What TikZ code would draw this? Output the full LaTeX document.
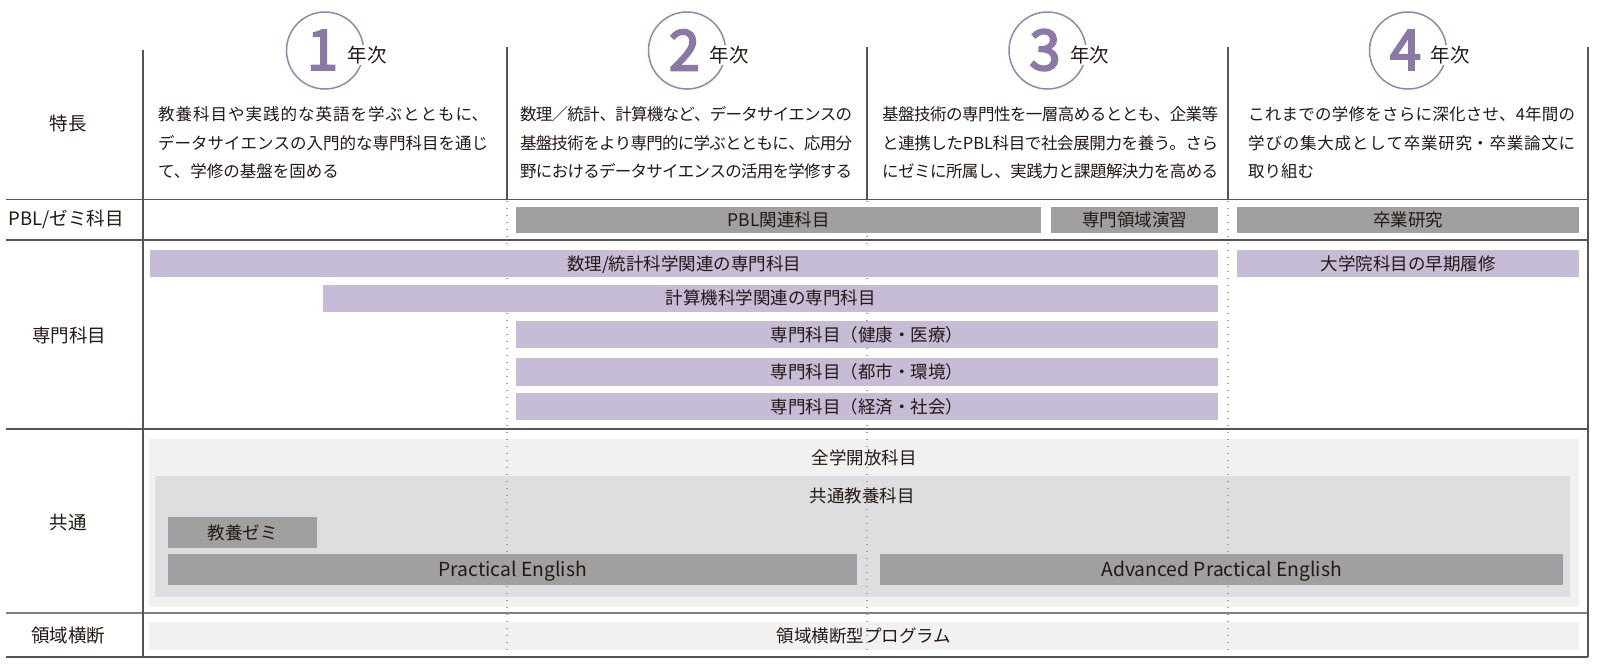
\documentclass[tikz,border=0pt]{standalone}
\usepackage{fontspec}
\setmainfont{Noto Sans CJK JP}
\newfontfamily\digitfont{Noto Sans CJK JP}[FakeBold=3.5]
\XeTeXlinebreaklocale "ja"
\XeTeXlinebreakskip=0pt plus 4pt minus 2.5pt
\definecolor{lineclr}{HTML}{595454}
\definecolor{dotclr}{HTML}{A0A0A0}
\definecolor{purplebar}{HTML}{C7BCD5}
\definecolor{graybar}{HTML}{A0A0A0}
\definecolor{bgout}{HTML}{F2F1F2}
\definecolor{bgin}{HTML}{DEDEE0}
\definecolor{circclr}{HTML}{9683B3}
\definecolor{digitclr}{HTML}{8B78A8}
\definecolor{textclr}{HTML}{231815}
\begin{document}
\begin{tikzpicture}[x=1pt,y=-1pt,
  every node/.style={text=textclr},
  barbase/.style={rectangle, inner sep=0, anchor=north west, font=\fontsize{17.5}{20}\selectfont, text height=15.4pt, text depth=2.1pt},
  gbar/.style={barbase, fill=graybar},
  pbar/.style={barbase, fill=purplebar},
  latinbar/.style={gbar, font=\fontsize{19.3}{22}\selectfont},
  bgbox/.style={rectangle, inner sep=0, anchor=north west},
  lab/.style={font=\fontsize{18.5}{20}\selectfont, inner sep=0},
  feat/.style={anchor=north west, inner sep=0, align=justify, font=\fontsize{16.5}{28.5}\selectfont},
  yearcirc/.style={circle, draw=circclr, line width=1.5pt, minimum size=77pt, inner sep=0},
  digit/.style={text=digitclr, font=\digitfont\fontsize{56}{60}\selectfont, inner sep=0},
  nenji/.style={fill=white, inner sep=1pt, font=\fontsize{19.5}{22}\selectfont},
  hline/.style={draw=lineclr, line width=1.2pt},
  dotline/.style={draw=dotclr, line width=1.4pt, dash pattern=on 1.4pt off 5.6pt}
]
\useasboundingbox (0,0) rectangle (1600,665);

% ---- common row backgrounds and bars
\node[bgbox, fill=bgout, minimum width=1430, minimum height=168] (outerbg) at (149,439) {};
\node[bgbox, fill=bgin, minimum width=1415, minimum height=121] (innerbg) at (155,476) {};
\node[bgbox, fill=bgout, minimum width=1430, minimum height=28] (ryobg) at (149,622) {};
\node[font=\fontsize{17.5}{20}\selectfont, inner sep=0] (zengaku) at (864,458) {全学開放科目};
\node[font=\fontsize{17.5}{20}\selectfont, inner sep=0] (kyotsu) at (862,496) {共通教養科目};
\node[font=\fontsize{17.5}{20}\selectfont, inner sep=0] (ryotxt) at (864,636) {領域横断型プログラム};
\node[gbar, minimum width=149, minimum height=31] (zemi) at (168,517) {教養ゼミ};
\node[latinbar, minimum width=689, minimum height=31] (pe) at (168,554) {Practical English};
\node[latinbar, minimum width=683, minimum height=31] (ape) at (880,554) {Advanced Practical English};

% ---- dotted year lines
\draw[dotline] (507,201) -- (507,657);
\draw[dotline] (867,201) -- (867,657);
\draw[dotline] (1228,201) -- (1228,657);

% ---- PBL row
\node[gbar, minimum width=525, minimum height=26] (pblbar) at (516,207) {PBL関連科目};
\node[gbar, minimum width=167, minimum height=26] (ensyu) at (1051,207) {専門領域演習};
\node[gbar, minimum width=342, minimum height=26] (sotsu) at (1237,207) {卒業研究};

% ---- specialised subjects
\node[pbar, minimum width=1068, minimum height=27.5] (suri) at (150,249.5) {数理/統計科学関連の専門科目};
\node[pbar, minimum width=342, minimum height=27.5] (daigakuin) at (1237,249.5) {大学院科目の早期履修};
\node[pbar, minimum width=895, minimum height=27] (keisan) at (323,284.5) {計算機科学関連の専門科目};
\node[pbar, minimum width=702, minimum height=27] (kenko) at (516,321) {専門科目（健康・医療）};
\node[pbar, minimum width=702, minimum height=28] (toshi) at (516,357.5) {専門科目（都市・環境）};
\node[pbar, minimum width=702, minimum height=27] (keizai) at (516,393) {専門科目（経済・社会）};

% ---- grid lines
\draw[hline] (6,199.5) -- (1588,199.5);
\draw[hline] (6,240) -- (1588,240);
\draw[hline] (6,429) -- (1588,429);
\draw[draw=lineclr!75, line width=2pt] (6,613) -- (1588,613);
\draw[hline] (6,657) -- (1588,657);
\draw[hline] (143,50) -- (143,657);
\draw[hline] (1588,47) -- (1588,657);
\draw[hline] (507,47) -- (507,199.5);
\draw[hline] (867,47) -- (867,199.5);
\draw[hline] (1228,47) -- (1228,199.5);

% ---- row labels
\node[lab] (l1) at (68,123) {特長};
\node[lab] (l2) at (66,219.5) {PBL/ゼミ科目};
\node[lab] (l3) at (69,335) {専門科目};
\node[lab] (l4) at (68,523) {共通};
\node[lab] (l5) at (68,636) {領域横断};

% ---- year headers
\node[yearcirc] (c1) at (325,50.5) {};
\node[yearcirc] (c2) at (687,50.5) {};
\node[yearcirc] (c3) at (1047.5,50.5) {};
\node[yearcirc] (c4) at (1408,50.5) {};
\node[digit] (d1) at (322.5,50) {1};
\node[digit] (d2) at (684.5,50) {2};
\node[digit] (d3) at (1045,50) {3};
\node[digit] (d4) at (1405.5,50) {4};
\node[nenji] (n1) at (367,55) {年次};
\node[nenji] (n2) at (729,55) {年次};
\node[nenji] (n3) at (1089.5,55) {年次};
\node[nenji] (n4) at (1450,55) {年次};

% ---- feature texts
\node[feat, text width=330pt] (f1) at (158,106.5) {\noindent 教養科目や実践的な英語を学ぶとともに、\linebreak データサイエンスの入門的な専門科目を通じ\linebreak て、学修の基盤を固める};
\node[feat, text width=332pt] (f2) at (520,106.5) {\noindent 数理／統計、計算機など、データサイエンスの\linebreak 基盤技術をより専門的に学ぶとともに、応用分\linebreak 野におけるデータサイエンスの活用を学修する};
\node[feat, text width=336pt] (f3) at (882,106.5) {\noindent 基盤技術の専門性を一層高めるととも、企業等\linebreak と連携したPBL科目で社会展開力を養う。さら\linebreak にゼミに所属し、実践力と課題解決力を高める};
\node[feat, text width=327pt] (f4) at (1248,106.5) {\noindent これまでの学修をさらに深化させ、4年間の\linebreak 学びの集大成として卒業研究・卒業論文に\linebreak 取り組む};
\end{tikzpicture}
\end{document}
